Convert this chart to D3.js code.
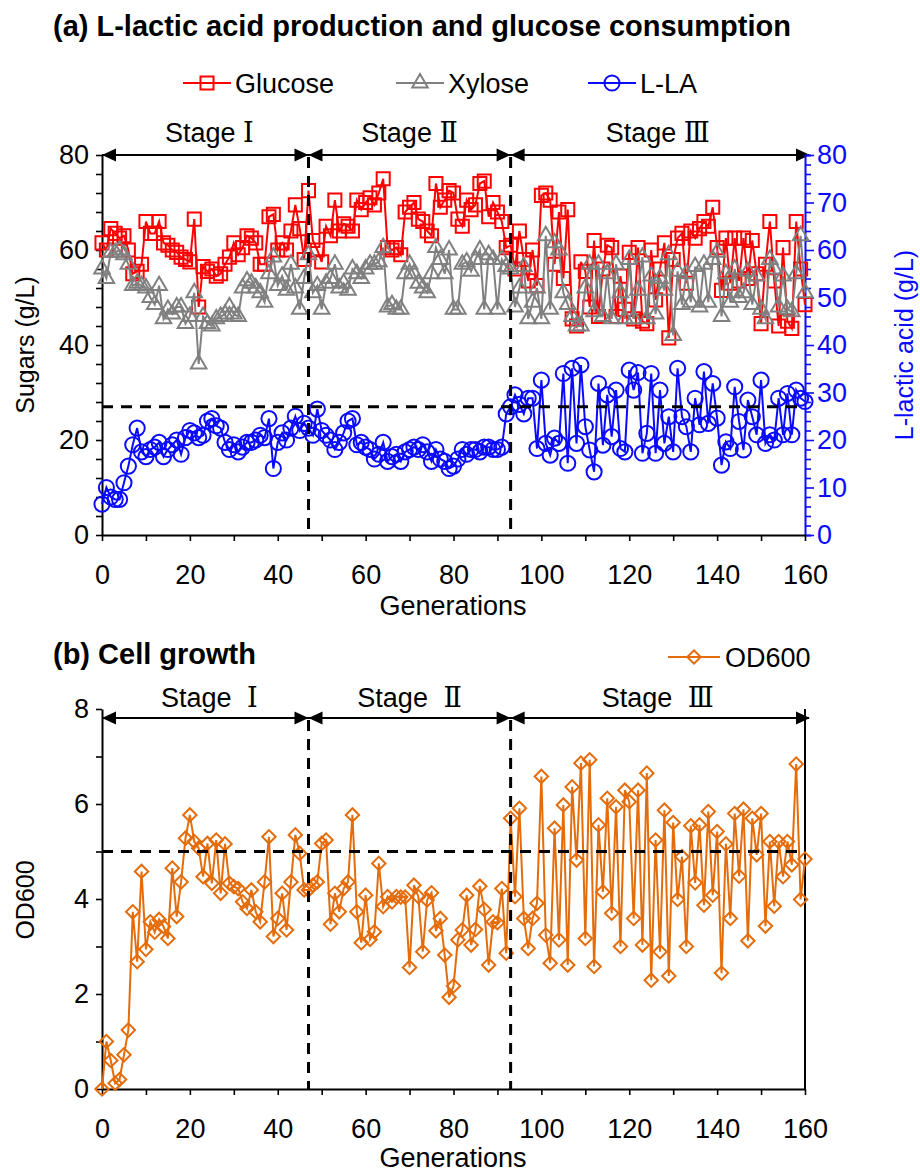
<!DOCTYPE html>
<html><head><meta charset="utf-8">
<script src="https://cdn.jsdelivr.net/npm/d3@7"></script>
<style>
body{margin:0;background:#fff}
text{font-family:"Liberation Sans",Arial,sans-serif;fill:#000}
</style>
</head><body>
<svg id="c" width="920" height="1176"></svg>
<script>
// ---------- DATA (one value per generation, 0..160) ----------
const glucose = [61.5,60,64.5,63.5,62.5,63,60,55,55.5,57,66,63.5,63.5,66,61.5,61,60,59.5,58.5,58,57.5,66.5,48,56.5,55.5,56,54.5,55,57,58.5,
61.5,59,60.5,63,62.5,61.5,57,57,67,67.5,60,61.5,60,64,69.5,64.5,58,72.5,62,60,57.5,65,63,70.5,64,65.5,65,64,70.5,68.5,
70,71,69.5,72,75,60.5,60,60.5,59,68,69,70,66.5,66,64,63,74,69,70.5,72.5,72,66.5,65,70.5,68.5,69.5,74,74.5,67,70,
68,66,60.5,61,56,64,58,53.5,60,52.5,71.5,72,70.5,57,68,54,68.5,45.5,44,57.5,55.5,48,62,46,56,61,60.5,46,54.5,47.5,
59.5,45.5,60.5,45,44.5,60,49.5,56,61.5,41.5,58,62.5,63.5,53,64,62.5,64.5,66,65,69,60.5,51.5,62.5,53,62.5,53.5,62.5,54,62,55,
44.5,57,66,53.5,44,60.5,45,43.5,66,56,48.5];
const xylose = [56,54,59.5,59.5,60,59,57,52.5,53,52.5,52,50,48.5,52.5,45.5,47.5,46.5,48,48,44.5,46,51,36,46,44.5,44,45.5,46,46.5,48,
46.5,46,52,53.5,53,52,51,49,55,58.5,52.5,54.5,51.5,57,52,47.5,54,59,51,52.5,47.5,53,54,57,52,53,51.5,56,55,54,
56,57,57,57.5,60.5,48,48.5,47.5,47.5,55,57,55,53,52,51,55,60.5,58,55,60,47.5,47.5,57,57.5,55.5,58,60,47.5,59,58,
47.5,58,56.5,56,48,52,56.5,45.5,49,52,45.5,63,47.5,61.5,60,51,48.5,46,44,44,52,57,47,57,46,55,45.5,57,51,45.5,
58,45.5,51.5,58.5,45.5,54.5,46.5,54,51.5,59,42,55.5,48.5,55,49,56.5,48,57,49,58,59.5,46,55,49,56,50,51,55.5,48.5,54.5,
47.5,45.5,58,56,48,54.5,47.5,47,55,63,51];
const lactate = [6.5,10,8,7.5,7.5,11,14.5,19,22.5,17.5,16.5,18,18.5,19.5,16.5,18,19,20,17,20.5,22,21.5,20.5,21,24,24.5,23,22.5,19.5,18,
19,17.5,18.5,19.5,19.5,20,21,20.5,24.5,14,19.5,21.5,20,22.5,25,22,23.5,22.5,21,26.5,22,21,20,18,19.5,21.5,24,24.5,19,19.5,
18.5,18,16,17,19.5,15.5,16.5,17,15.5,17.5,18,18.5,18,19,17.5,15.5,18,16,15.5,14,14.5,16,18,17,18,18,17.5,18.5,18.5,18,
18,18.5,25.5,27,29.5,27.5,25.5,28.8,28.8,18.2,32.6,19.3,16.8,20.4,19.3,34,15.1,35.1,19.3,35.8,22.8,17.9,13.3,31.9,18.9,29.5,20.7,30.5,18.2,17.5,
34.7,30.5,34.2,17.2,21.4,34,17.2,30.5,19.3,24.9,17.5,35.1,24.9,22.8,17.5,28.8,23.2,34.4,23.5,31.9,24.6,14.7,19.6,18.2,31.2,23.9,17.9,28.4,24.9,21.1,
32.6,19.3,21.1,20,28.8,21.1,29.8,21.1,30.5,28.8,28.1];
const od600 = [0,1.0,0.6,0.12,0.2,0.72,1.24,3.73,2.68,4.58,2.94,3.52,3.3,3.57,3.42,3.17,4.65,3.63,4.36,5.28,5.77,5.21,5.07,4.47,5.17,4.33,5.24,4.12,5.16,4.33,
4.26,4.22,3.94,3.8,4.19,3.73,3.52,4.36,5.31,3.21,3.59,4.12,3.35,4.36,5.35,4.96,4.19,4.19,4.29,4.36,5.17,5.24,3.47,4.12,3.73,4.22,4.36,5.77,3.73,3.08,
4.08,3.15,3.31,4.75,3.84,4.05,3.94,4.05,4.04,4.04,2.56,4.29,4.05,2.89,3.98,4.13,3.33,3.59,2.82,1.93,2.17,3.14,3.35,4.08,3.03,3.36,4.27,3.78,2.61,3.52,
3.5,4.22,2.86,5.7,4.05,5.91,3.59,2.96,3.59,3.91,6.58,3.24,2.65,5.49,3.14,5.98,2.61,6.36,4.82,6.86,3.17,6.93,2.58,5.56,4.15,6.12,3.7,5.94,3.0,6.29,
6.05,3.59,6.29,3.03,6.65,2.29,5.24,2.89,5.87,2.38,5.61,3.99,4.89,3.0,5.54,4.34,5.56,3.87,5.84,4.08,5.42,2.44,5.16,3.59,5.8,4.48,5.89,3.12,5.7,4.93,
5.8,3.43,5.21,3.85,5.21,4.47,5.21,4.72,6.84,3.99,4.84];
const stageBounds = [0,47,93,160];
const stageNames = ["Ⅰ","Ⅱ","Ⅲ"];
const xTicks = [0,20,40,60,80,100,120,140,160];
const sugarTicks = [0,20,40,60,80];
const laTicks = [0,10,20,30,40,50,60,70,80];
const odTicks = [0,2,4,6,8];
const refLA = 27;     // horizontal dashed reference (g/L)
const refOD = 5;      // horizontal dashed reference (OD600)

// ---------- SETUP ----------
const svg = d3.select("#c");
const RED="#ff0000", GRAY="#808080", BLUE="#0a0aff", ORANGE="#e46c0a";
const FS = 27, FT = 25, FB = 29;
const x = d3.scaleLinear().domain([0,160]).range([102,805]);
const yA = d3.scaleLinear().domain([0,80]).range([535,155]);
const yR = d3.scaleLinear().domain([0,80]).range([535,155]);
const yB = d3.scaleLinear().domain([0,8]).range([1089,709]);

function styleAxis(g,color){
  g.selectAll("path.domain").attr("stroke",color).attr("stroke-width",2);
  g.selectAll(".tick line").attr("stroke",color).attr("stroke-width",1.6);
  g.selectAll(".tick text").attr("font-size",FS).attr("fill",color).style("fill",color)
    .attr("font-family","Liberation Sans, Arial, sans-serif");
}

function drawXAxis(yPos,labelY){
  const g = svg.append("g").attr("transform",`translate(0,${yPos})`)
    .call(d3.axisBottom(x).tickValues(d3.range(0,161,10)).tickSize(6).tickSizeOuter(0)
      .tickFormat(d=> xTicks.includes(d)? d : ""));
  styleAxis(g,"#000");
  g.selectAll(".tick text").attr("y",30).attr("dy","0.71em");
  svg.append("text").attr("x",453).attr("y",labelY).attr("text-anchor","middle")
    .attr("font-size",FS).text("Generations");
}

function stageRow(yPos,labelY,gap){
  svg.append("line").attr("x1",x(0)).attr("x2",x(160)+4).attr("y1",yPos).attr("y2",yPos)
    .attr("stroke","#000").attr("stroke-width",2);
  const ah = (tipX,dir)=>{
    const L=14,H=6.5;
    svg.append("path").attr("d",`M${tipX},${yPos} L${tipX-dir*L},${yPos-H} L${tipX-dir*L},${yPos+H}Z`).attr("fill","#000");
  };
  ah(x(0),-1);
  ah(x(160)+5,1);
  stageBounds.slice(1,3).forEach(b=>{ ah(x(b),1); ah(x(b),-1); });
  stageNames.forEach((n,i)=>{
    const cx = (x(stageBounds[i])+x(stageBounds[i+1]))/2 + (i===0?4:0);
    const t = svg.append("text").attr("x",cx).attr("y",labelY).attr("text-anchor","middle").attr("font-size",FS);
    t.append("tspan").text("Stage ");
    t.append("tspan").attr("dx",gap).attr("font-family","Liberation Serif, DejaVu Serif, Noto Sans CJK SC, serif").text(n);
  });
}

function dashedGuides(yScale,refVal,top,bottom){
  svg.append("line").attr("x1",x(0)).attr("x2",x(160)).attr("y1",yScale(refVal)).attr("y2",yScale(refVal))
    .attr("stroke","#000").attr("stroke-width",3).attr("stroke-dasharray","11,8");
  stageBounds.slice(1,3).forEach(b=>{
    svg.append("line").attr("x1",x(b)).attr("x2",x(b)).attr("y1",top).attr("y2",bottom)
      .attr("stroke","#000").attr("stroke-width",3).attr("stroke-dasharray","11,8");
  });
}

function series(values,yScale,color,symbolFn){
  const line = d3.line().x((d,i)=>x(i)).y(d=>yScale(d));
  svg.append("path").datum(values).attr("d",line).attr("fill","none").attr("stroke",color).attr("stroke-width",2);
  svg.append("g").selectAll("path").data(values).join("path")
    .attr("transform",(d,i)=>`translate(${x(i)},${yScale(d)})`)
    .attr("d",symbolFn).attr("fill","none").attr("stroke",color).attr("stroke-width",2);
}
const sq = d3.symbol(d3.symbolSquare,170)();
const tri = d3.symbol(d3.symbolTriangle,105)();
const circ = d3.symbol(d3.symbolCircle,180)();
const dia = d3.symbol(d3.symbolSquare,90)();

// ---------- PANEL A ----------
svg.append("text").attr("x",53).attr("y",36).attr("font-size",FB).attr("font-weight","bold")
  .text("(a) L-lactic acid production and glucose consumption");

const legA = [{n:"Glucose",c:RED,s:sq,x0:183},{n:"Xylose",c:GRAY,s:tri,x0:396},{n:"L-LA",c:BLUE,s:circ,x0:588}];
legA.forEach(l=>{
  svg.append("line").attr("x1",l.x0).attr("x2",l.x0+48).attr("y1",83).attr("y2",83).attr("stroke",l.c).attr("stroke-width",2);
  svg.append("path").attr("d",l.s).attr("transform",`translate(${l.x0+24},83)`).attr("fill","none").attr("stroke",l.c).attr("stroke-width",2);
  svg.append("text").attr("x",l.x0+52).attr("y",83).attr("dy","0.36em").attr("font-size",FS).text(l.n);
});

stageRow(155,142,0);

const gL = svg.append("g").attr("transform",`translate(${x(0)},0)`)
  .call(d3.axisLeft(yA).tickValues(d3.range(0,81,4)).tickSize(6).tickSizeOuter(0)
    .tickFormat(d=> sugarTicks.includes(d)? d : ""));
styleAxis(gL,"#000");
gL.selectAll(".tick text").attr("x",-13);
const gR = svg.append("g").attr("transform",`translate(${x(160)},0)`)
  .call(d3.axisRight(yR).tickValues(d3.range(0,81,2)).tickSizeOuter(0)
    .tickSize(6).tickFormat(d=> laTicks.includes(d)? d : ""));
styleAxis(gR,BLUE);
gR.selectAll(".tick line").attr("x2",d=> laTicks.includes(d)? 9 : 6);
gR.selectAll(".tick text").attr("x",12);

drawXAxis(535,615);

svg.append("text").attr("transform",`translate(34,345) rotate(-90)`).attr("text-anchor","middle")
  .attr("font-size",FT).text("Sugars (g/L)");
svg.append("text").attr("transform",`translate(913,345) rotate(-90)`).attr("text-anchor","middle")
  .attr("font-size",FT).style("fill",BLUE).text("L-lactic acid (g/L)");

series(glucose,yA,RED,sq);
series(xylose,yA,GRAY,tri);
series(lactate,yR,BLUE,circ);
dashedGuides(yR,refLA,157,535);

// ---------- PANEL B ----------
svg.append("text").attr("x",53).attr("y",664).attr("font-size",FB).attr("font-weight","bold").text("(b) Cell growth");
svg.append("line").attr("x1",668).attr("x2",720).attr("y1",657).attr("y2",657).attr("stroke",ORANGE).attr("stroke-width",2);
svg.append("path").attr("d",dia).attr("transform","translate(694,657) rotate(45)").attr("fill","none").attr("stroke",ORANGE).attr("stroke-width",2);
svg.append("text").attr("x",725).attr("y",657).attr("dy","0.36em").attr("font-size",FS).text("OD600");

stageRow(718,707,8);

const gBL = svg.append("g").attr("transform",`translate(${x(0)},0)`)
  .call(d3.axisLeft(yB).tickValues(d3.range(0,9,1)).tickSize(6).tickSizeOuter(0)
    .tickFormat(d=> odTicks.includes(d)? d : ""));
styleAxis(gBL,"#000");
gBL.selectAll(".tick text").attr("x",-13);
svg.append("line").attr("x1",x(160)).attr("x2",x(160)).attr("y1",yB(8)).attr("y2",yB(0)).attr("stroke","#000").attr("stroke-width",2);

drawXAxis(1089,1167);
svg.append("text").attr("transform",`translate(34,900) rotate(-90)`).attr("text-anchor","middle")
  .attr("font-size",FT).text("OD600");

const lineB = d3.line().x((d,i)=>x(i)).y(d=>yB(d));
svg.append("path").datum(od600).attr("d",lineB).attr("fill","none").attr("stroke",ORANGE).attr("stroke-width",2);
svg.append("g").selectAll("path").data(od600).join("path")
  .attr("transform",(d,i)=>`translate(${x(i)},${yB(d)}) rotate(45)`)
  .attr("d",dia).attr("fill","none").attr("stroke",ORANGE).attr("stroke-width",2);
dashedGuides(yB,refOD,720,1089);
</script>
</body></html>
